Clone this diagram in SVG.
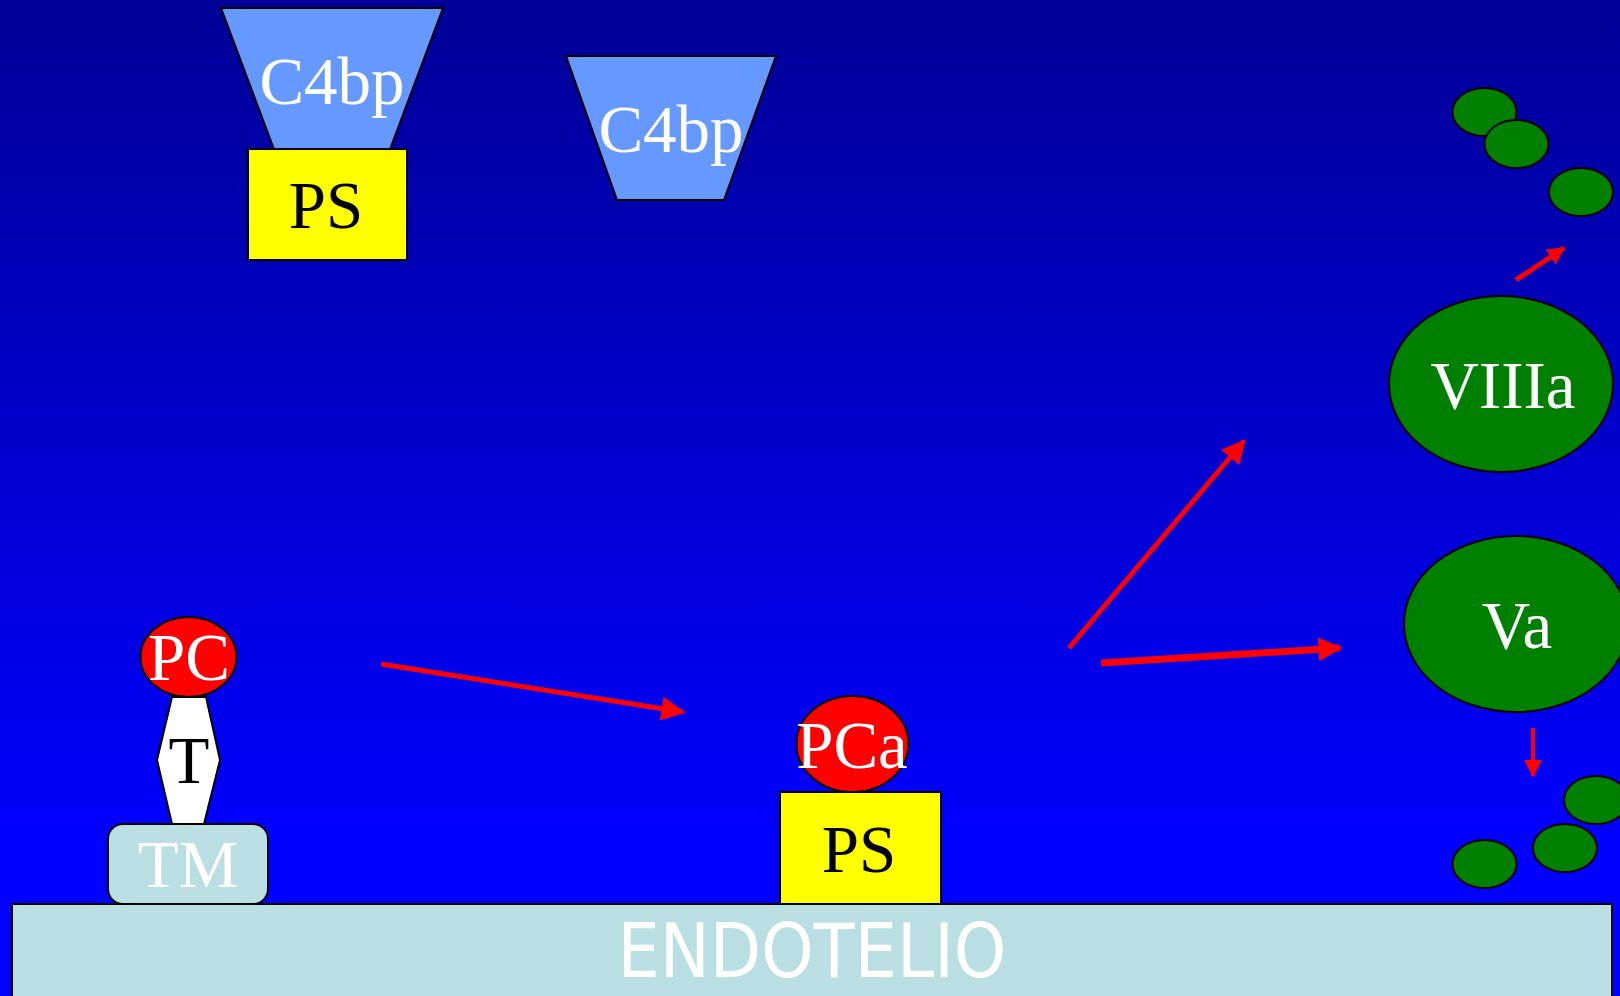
<svg xmlns="http://www.w3.org/2000/svg" width="1620" height="996" viewBox="0 0 1620 996">
  <defs>
    <linearGradient id="bg" x1="0" y1="0" x2="0" y2="1" gradientUnits="objectBoundingBox">
      <stop offset="0" stop-color="#000096"/>
      <stop offset="0.85" stop-color="#0000FF"/>
      <stop offset="1" stop-color="#0000FF"/>
    </linearGradient>
    <marker id="head" viewBox="0 0 10 10" refX="9" refY="5" markerWidth="24" markerHeight="24" markerUnits="userSpaceOnUse" orient="auto">
      <path d="M0,0 L10,5 L0,10 Z" fill="#FF0000"/>
    </marker>
    <marker id="headSmall" viewBox="0 0 10 10" refX="9" refY="5" markerWidth="18" markerHeight="18" markerUnits="userSpaceOnUse" orient="auto">
      <path d="M0,0 L10,5 L0,10 Z" fill="#FF0000"/>
    </marker>
  </defs>
  <style>
    .edge { stroke: #000; stroke-width: 2; }
    .c4bp { fill: #6699FF; }
    .ps { fill: #FFFF00; }
    .red { fill: #FF0000; }
    .green { fill: #008000; }
    .pale { fill: #BADFE2; }
    .white { fill: #FFFFFF; }
    .lbl { font-family: "Liberation Serif", "Times New Roman", serif; font-size: 67px; text-anchor: middle; }
    .lbl-w { fill: #FFFFFF; }
    .lbl-k { fill: #000000; }
    .arrow { stroke: #FF0000; fill: none; }
  </style>

  <!-- background -->
  <rect x="0" y="0" width="1620" height="996" fill="url(#bg)"/>

  <!-- endothelium -->
  <g id="endotelio">
    <rect class="pale edge" x="12" y="904" width="1600" height="110"/>
    <text x="812" y="977" font-family="'Comic Sans MS', 'DejaVu Sans', sans-serif" font-size="74" fill="#FFFFFF" text-anchor="middle" textLength="389" lengthAdjust="spacingAndGlyphs">ENDOTELIO</text>
  </g>

  <!-- C4bp bound to PS -->
  <g id="c4bp-1">
    <polygon class="c4bp edge" points="221,8 443,8 389,152 275,152"/>
    <text class="lbl lbl-w" x="332" y="104">C4bp</text>
  </g>
  <g id="ps-1">
    <rect class="ps edge" x="248" y="149" width="159" height="111"/>
    <text class="lbl lbl-k" x="326" y="228">PS</text>
  </g>

  <!-- free C4bp -->
  <g id="c4bp-2">
    <polygon class="c4bp edge" points="566,56 776,56 724,200 617,200"/>
    <text class="lbl lbl-w" x="671" y="152">C4bp</text>
  </g>

  <!-- TM / thrombin / protein C complex -->
  <g id="tm">
    <rect class="pale edge" x="108" y="824" width="160" height="80" rx="15" ry="15"/>
    <text class="lbl lbl-w" x="188" y="887">TM</text>
  </g>
  <g id="t">
    <polygon class="white edge" points="172,697 206,697 220,760 204,824 172,824 157,760"/>
    <text class="lbl lbl-k" x="189" y="783">T</text>
  </g>
  <g id="pc">
    <ellipse class="red edge" cx="188.5" cy="657" rx="48" ry="40"/>
    <text class="lbl lbl-w" x="189" y="680">PC</text>
  </g>

  <!-- activated protein C on PS -->
  <g id="ps-2">
    <rect class="ps edge" x="780" y="792" width="161" height="112"/>
    <text class="lbl lbl-k" x="859" y="872">PS</text>
  </g>
  <g id="pca">
    <ellipse class="red edge" cx="852.5" cy="744" rx="56" ry="48"/>
    <text class="lbl lbl-w" x="852" y="768">PCa</text>
  </g>

  <!-- factor VIIIa and its fragments -->
  <g id="viiia">
    <ellipse class="green edge" cx="1501" cy="384" rx="112" ry="88"/>
    <text class="lbl lbl-w" x="1503" y="408">VIIIa</text>
  </g>
  <g id="viiia-fragments">
    <ellipse class="green edge" cx="1484.5" cy="112" rx="32" ry="24"/>
    <ellipse class="green edge" cx="1516.5" cy="144" rx="32" ry="24"/>
    <ellipse class="green edge" cx="1581" cy="192" rx="32" ry="24"/>
  </g>

  <!-- factor Va and its fragments -->
  <g id="va">
    <ellipse class="green edge" cx="1516" cy="624" rx="112" ry="88"/>
    <text class="lbl lbl-w" x="1517" y="648">Va</text>
  </g>
  <g id="va-fragments">
    <ellipse class="green edge" cx="1596" cy="800" rx="32" ry="24"/>
    <ellipse class="green edge" cx="1565" cy="848" rx="32" ry="24"/>
    <ellipse class="green edge" cx="1484.5" cy="864" rx="32" ry="24"/>
  </g>

  <!-- connectors -->
  <g id="connectors">
    <line class="arrow" x1="381" y1="664" x2="683" y2="712" stroke-width="5" marker-end="url(#head)"/>
    <line class="arrow" x1="1069" y1="648" x2="1244" y2="441" stroke-width="5" marker-end="url(#head)"/>
    <line class="arrow" x1="1101" y1="663" x2="1340" y2="648" stroke-width="7" marker-end="url(#head)"/>
    <line class="arrow" x1="1516" y1="280" x2="1564" y2="248" stroke-width="5" marker-end="url(#headSmall)"/>
    <line class="arrow" x1="1533" y1="728" x2="1533" y2="776" stroke-width="4" marker-end="url(#headSmall)"/>
  </g>
</svg>
